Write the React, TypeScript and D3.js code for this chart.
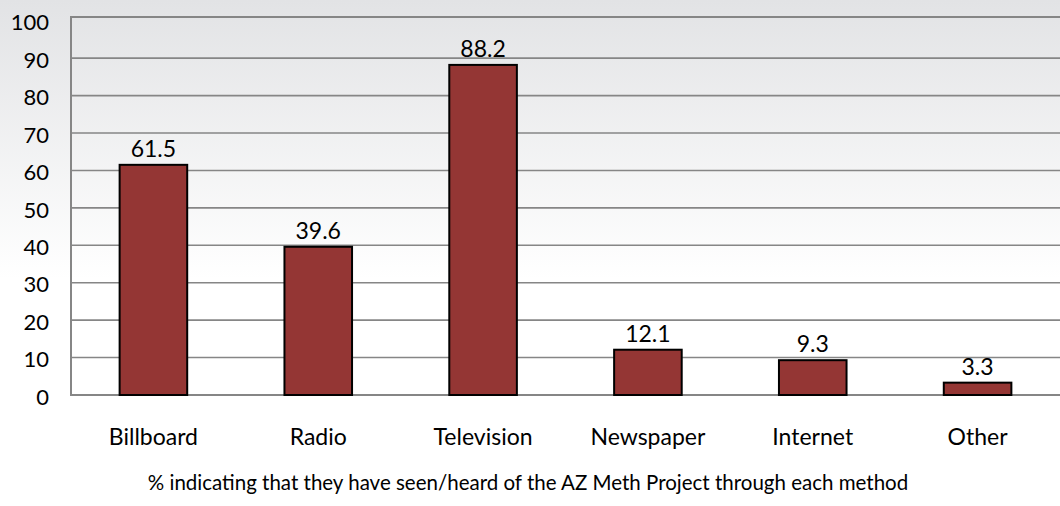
import * as d3 from "d3";
import { useEffect, useRef } from "react";

const categories = ["Billboard", "Radio", "Television", "Newspaper", "Internet", "Other"];
const values = [61.5, 39.6, 88.2, 12.1, 9.3, 3.3];
const yTicks = [0, 10, 20, 30, 40, 50, 60, 70, 80, 90, 100];
const caption = "% indicating that they have seen/heard of the AZ Meth Project through each method";

const W = 1060;
const H = 506;
const FONT = "Lato, 'Open Sans', sans-serif";

const App = () => {
    const ref = useRef<SVGSVGElement | null>(null);

    useEffect(() => {
        const svg = d3.select(ref.current);
        svg.selectAll("*").remove();

        const margin = { top: 17, bottom: 111, left: 71, right: 0 };
        const innerW = W - margin.left - margin.right;
        const innerH = H - margin.top - margin.bottom;

        // background gradient over the whole picture
        const defs = svg.append("defs");
        const grad = defs.append("linearGradient")
            .attr("id", "bg")
            .attr("x1", 0).attr("y1", 0)
            .attr("x2", 0).attr("y2", 1);
        grad.append("stop").attr("offset", "0%").attr("stop-color", "#e2e3e5");
        grad.append("stop").attr("offset", "55%").attr("stop-color", "#ffffff");
        grad.append("stop").attr("offset", "100%").attr("stop-color", "#ffffff");
        svg.append("rect").attr("width", W).attr("height", H).attr("fill", "url(#bg)");

        const x = d3.scaleBand<string>()
            .domain(categories)
            .range([0, innerW])
            .padding(0);

        // frame top sits slightly above 100
        const y = d3.scaleLinear()
            .domain([0, 101])
            .range([innerH, 0]);

        const g = svg.append("g").attr("transform", `translate(${margin.left}, ${margin.top})`);

        // gridlines
        g.selectAll(".grid")
            .data(yTicks.filter(t => t > 0 && t < 100))
            .enter()
            .append("line")
            .attr("x1", 0)
            .attr("x2", innerW)
            .attr("y1", d => y(d))
            .attr("y2", d => y(d))
            .attr("stroke", "#868686")
            .attr("stroke-width", 1.6);

        // frame: top, left, bottom
        g.append("path")
            .attr("d", `M${innerW},0H0V${innerH}H${innerW}`)
            .attr("fill", "none")
            .attr("stroke", "#868686")
            .attr("stroke-width", 2);

        // y tick labels
        g.selectAll(".ytick")
            .data(yTicks)
            .enter()
            .append("text")
            .attr("x", -22)
            .attr("y", d => y(d) + 2)
            .attr("dy", "0.35em")
            .attr("text-anchor", "end")
            .style("font-family", FONT)
            .style("font-size", "22px")
            .attr("fill", "#000")
            .text(d => d);

        const barW = x.bandwidth() * 0.41;
        const data = categories.map((c, i) => ({ c, v: values[i] }));

        g.selectAll(".bar")
            .data(data)
            .enter()
            .append("rect")
            .attr("x", d => (x(d.c) as number) + x.bandwidth() / 2 - barW / 2)
            .attr("y", d => y(d.v))
            .attr("width", barW)
            .attr("height", d => innerH - y(d.v))
            .attr("fill", "#943634")
            .attr("stroke", "#000")
            .attr("stroke-width", 2);

        g.selectAll(".val")
            .data(data)
            .enter()
            .append("text")
            .attr("x", d => (x(d.c) as number) + x.bandwidth() / 2)
            .attr("y", d => y(d.v) - 8)
            .attr("text-anchor", "middle")
            .style("font-family", FONT)
            .style("font-size", "23px")
            .attr("fill", "#000")
            .text(d => d.v.toFixed(1));

        g.selectAll(".xlab")
            .data(categories)
            .enter()
            .append("text")
            .attr("x", d => (x(d) as number) + x.bandwidth() / 2)
            .attr("y", innerH + 50)
            .attr("text-anchor", "middle")
            .style("font-family", FONT)
            .style("font-size", "23px")
            .attr("fill", "#000")
            .text(d => d);

        svg.append("text")
            .attr("x", 528)
            .attr("y", 490)
            .attr("text-anchor", "middle")
            .style("font-family", FONT)
            .style("font-size", "20.5px")
            .attr("fill", "#000")
            .text(caption);
    }, []);

    return (
        <svg ref={ref} width={W} height={H} style={{ position: "absolute", left: 0, top: 0 }} />
    );
};

export default App;
